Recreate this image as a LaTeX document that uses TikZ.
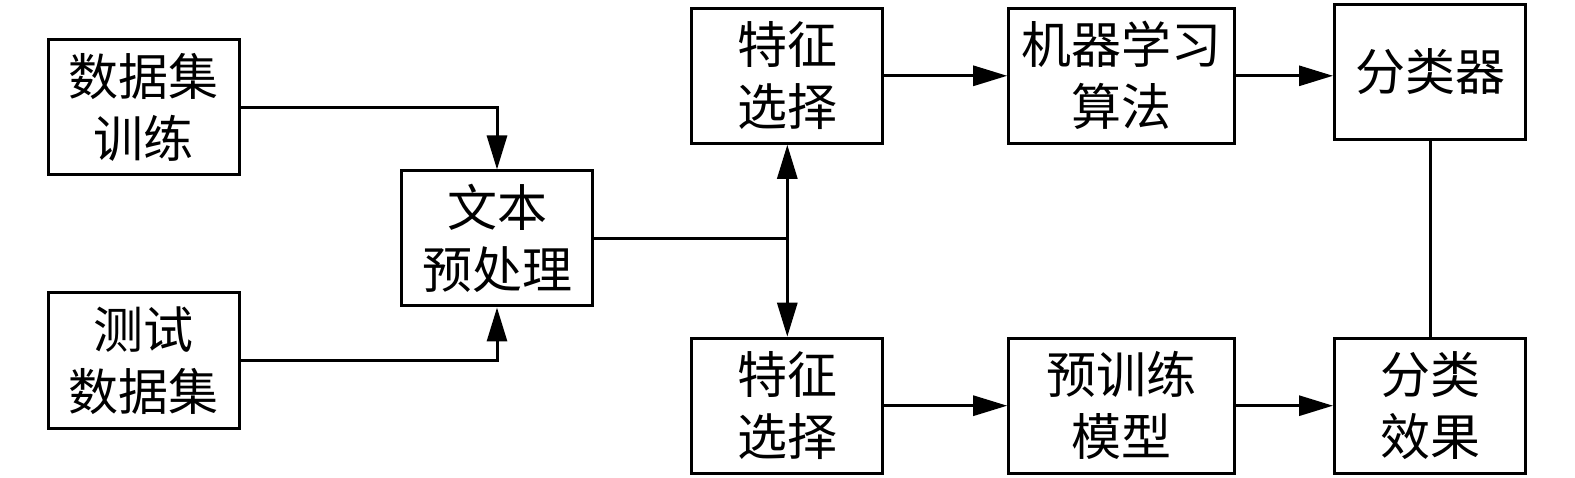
\documentclass[tikz,border=0pt]{standalone}
\usepackage{fontspec}
\newfontfamily\cjk{Noto Sans CJK SC}
\usetikzlibrary{arrows.meta}

\begin{document}
\begin{tikzpicture}[x=1pt,y=-1pt,
    every node/.style={inner sep=0pt,align=center,font=\cjk\fontsize{50}{62}\selectfont},
    box/.style={draw,line width=3pt,minimum width=191pt,minimum height=135pt},
    widebox/.style={box,minimum width=226pt},
    flow/.style={line width=3pt,-{Triangle[length=34pt,width=20pt]}}]
    \useasboundingbox (0,0) rectangle (1575,478);
    % inputs and preprocessing
    \node[box] (train) at (143.5,107.5) {数据集\\训练};
    \node[box] (test) at (143.5,360.5) {测试\\数据集};
    \node[box] (pre) at (497,238.5) {文本\\预处理};
    % upper branch
    \node[box] (fsa) at (787.3,75.8) {特征\\选择};
    \node[widebox] (ml) at (1121.7,75.8) {机器学习\\算法};
    \node[box] (clf) at (1430,72) {分类器};
    % lower branch
    \node[box] (fsb) at (787.3,405.7) {特征\\选择};
    \node[widebox] (pt) at (1121.7,405.7) {预训练\\模型};
    \node[box] (eff) at (1430,405.7) {分类\\效果};
    \coordinate (split) at (fsa.south |- pre.east);
    \draw[flow] (train.east) -| (pre.north);
    \draw[flow] (test.east) -| (pre.south);
    \draw[line width=3pt] (pre.east) -- (split);
    \draw[flow] (split) -- (fsa.south);
    \draw[flow] (split) -- (fsb.north);
    \draw[flow] (fsa) -- (ml);
    \draw[flow] (ml) -- (ml -| clf.west);
    \draw[flow] (fsb) -- (pt);
    \draw[flow] (pt) -- (eff);
    \draw[line width=3pt] (clf.south) -- (eff.north);
\end{tikzpicture}
\end{document}
